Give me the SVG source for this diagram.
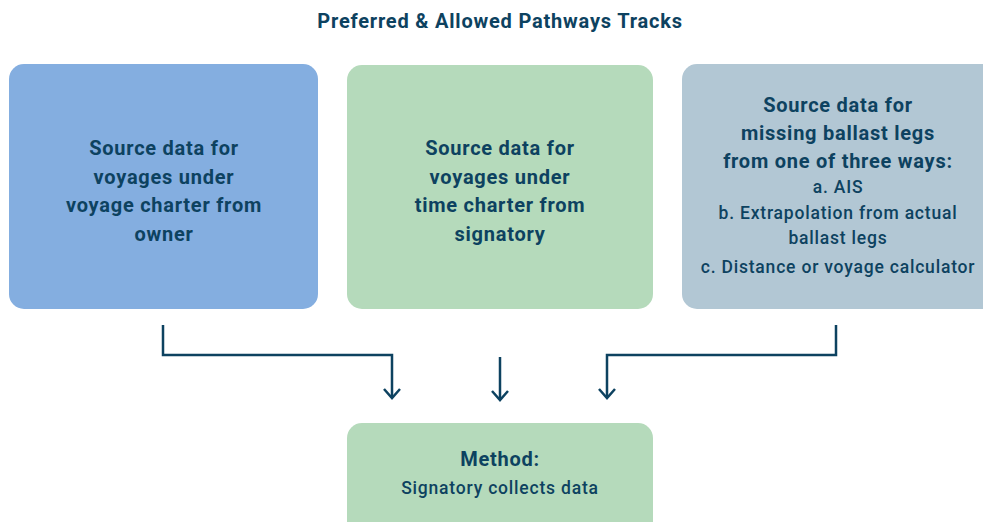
<svg xmlns="http://www.w3.org/2000/svg" width="983" height="522" viewBox="0 0 983 522">
<style>
text{font-family:Roboto,"Liberation Sans",sans-serif;fill:#0d4260;text-anchor:middle}
.b{font-weight:700;font-size:20px;letter-spacing:0.75px}
.m{font-weight:500;font-size:17.5px;letter-spacing:0.8px}
.t{font-weight:700;font-size:20px;letter-spacing:0.8px}
.c{fill:none;stroke:#0d4260;stroke-width:2.5}
</style>
<defs>
<marker id="ah" viewBox="0 0 14 20" refX="11" refY="10" markerWidth="14" markerHeight="20" markerUnits="userSpaceOnUse" orient="auto">
<path d="M2 2 L11 10 L2 18" fill="none" stroke="#0d4260" stroke-width="2.5"/>
</marker>
</defs>
<text class="t" x="500" y="28">Preferred &amp; Allowed Pathways Tracks</text>
<g id="n1">
<rect x="9" y="64" width="309" height="245" rx="15" fill="#84aee0"/>
<text class="b" x="164" y="155">Source data for</text>
<text class="b" x="164" y="183.5">voyages under</text>
<text class="b" x="164" y="212">voyage charter from</text>
<text class="b" x="164" y="240.5">owner</text>
</g>
<g id="n2">
<rect x="347" y="65" width="306" height="244" rx="15" fill="#b5dabb"/>
<text class="b" x="500" y="155">Source data for</text>
<text class="b" x="500" y="183.5">voyages under</text>
<text class="b" x="500" y="212">time charter from</text>
<text class="b" x="500" y="240.5">signatory</text>
</g>
<g id="n3">
<rect x="682" y="64" width="320" height="245" rx="15" fill="#b2c7d4"/>
<text class="b" x="838" y="112">Source data for</text>
<text class="b" x="838" y="140">missing ballast legs</text>
<text class="b" x="838" y="168">from one of three ways:</text>
<text class="m" x="838" y="193">a. AIS</text>
<text class="m" x="838" y="219">b. Extrapolation from actual</text>
<text class="m" x="838" y="244">ballast legs</text>
<text class="m" x="838" y="273">c. Distance or voyage calculator</text>
</g>
<g id="n4">
<rect x="347" y="423" width="306" height="120" rx="15" fill="#b5dabb"/>
<text class="b" x="500" y="466">Method:</text>
<text class="m" x="500" y="494">Signatory collects data</text>
</g>
<g id="connectors">
<path class="c" d="M163 325 V355 H392 V398" marker-end="url(#ah)"/>
<path class="c" d="M500 357 V400" marker-end="url(#ah)"/>
<path class="c" d="M836 325 V355 H607 V398" marker-end="url(#ah)"/>
</g>
</svg>
